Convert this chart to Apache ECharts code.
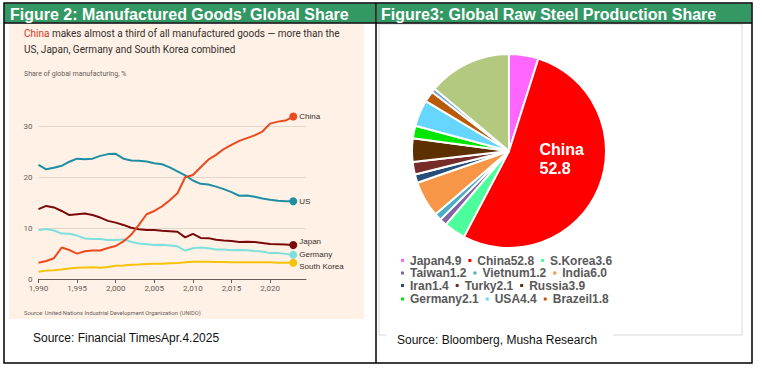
<!DOCTYPE html>
<html><head><meta charset="utf-8">
<script src="https://cdn.jsdelivr.net/npm/echarts@6/dist/echarts.min.js"></script>
<style>html,body{margin:0;padding:0;background:#fff}#c{width:762px;height:369px}</style>
</head><body><div id="c"></div>
<script>
const years = [1990,1991,1992,1993,1994,1995,1996,1997,1998,1999,2000,2001,2002,2003,2004,2005,2006,2007,2008,2009,2010,2011,2012,2013,2014,2015,2016,2017,2018,2019,2020,2021,2022,2023];
const china = [3.2,3.55,4.1,6.2,5.7,5.0,5.45,5.6,5.6,6.1,6.5,7.4,8.7,10.65,12.75,13.4,14.3,15.5,16.9,20.05,20.5,22.0,23.5,24.45,25.6,26.4,27.2,27.75,28.3,29.05,30.6,31.0,31.2,32.0];
const us = [22.5,21.6,21.9,22.3,23.1,23.7,23.6,23.7,24.25,24.6,24.65,23.7,23.35,23.3,23.15,22.8,22.6,22.0,21.2,20.4,19.4,18.75,18.6,18.2,17.7,17.1,16.4,16.45,16.2,15.85,15.6,15.4,15.3,15.3];
const japan = [13.75,14.4,14.1,13.4,12.6,12.75,12.9,12.6,12.1,11.45,11.1,10.65,10.1,9.8,9.65,9.65,9.5,9.4,9.3,8.2,8.9,8.1,8.05,7.75,7.6,7.5,7.3,7.35,7.3,7.1,6.9,6.85,6.8,6.7];
const germany = [9.6,9.85,9.55,8.95,8.9,8.55,8.0,7.9,7.9,7.7,7.7,7.8,7.35,7.0,6.85,6.7,6.75,6.6,6.45,5.6,6.05,6.2,6.05,5.8,5.8,5.65,5.7,5.65,5.5,5.4,5.1,5.1,4.95,4.75];
const korea = [1.45,1.65,1.7,1.85,2.05,2.2,2.25,2.3,2.2,2.35,2.6,2.65,2.8,2.85,2.95,3.0,3.0,3.1,3.15,3.3,3.4,3.4,3.4,3.35,3.35,3.3,3.3,3.3,3.3,3.3,3.3,3.2,3.2,3.2];
const xTicks = [1990,1995,2000,2005,2010,2015,2020];
const yTicks = [0,10,20,30];

const steelNames = ['Japan','China','S.Korea','Taiwan','Vietnum','India','Iran','Turky','Russia','Germany','USA','Brazeil','Other small','Others'];
const steelValues = [4.9,52.8,3.6,1.2,1.2,6.0,1.4,2.1,3.9,2.1,4.4,1.8,0.7,13.9];
const steelColors = ['#FF66FF','#FF0000','#4DFF9C','#8064A2','#4BACC6','#F79646','#254E7A','#772C2A','#5C3000','#00E600','#66D6FF','#B85A0A','#7BA0D0','#B3C980'];
const legendRows = [['Japan','China','S.Korea'],['Taiwan','Vietnum','India'],['Iran','Turky','Russia'],['Germany','USA','Brazeil']];

const FONT = 'Liberation Sans, Arial, sans-serif';
const chart = echarts.init(document.getElementById('c'), null, {renderer:'svg'});

function lineSeries(label, vals, color, offY) {
  const last = vals.length - 1;
  return {
    type:'line', name:'ft-' + label, silent:true, animation:false, symbol:'none', clip:false,
    lineStyle:{width:2, color}, itemStyle:{color},
    data: vals.map((v,i) => i === last ? {value:[years[i], v], symbol:'circle', symbolSize:8} : [years[i], v]),
    endLabel:{show:true, formatter:label, color:'#33302E', fontSize:8, fontFamily:FONT, distance:6, offset:[0, offY]}
  };
}

const valueOf = {};
steelNames.forEach((n,i) => valueOf[n] = steelValues[i]);

const pieData = steelNames.map((n,i) => {
  const d = {name:n, value:steelValues[i], itemStyle:{color:steelColors[i]}};
  if (n === 'China') {
    d.label = {show:true, position:'inside', formatter:'{t|{b}}\n{t|{c}}', padding:[0,0,24,12],
      rich:{t:{width:46, align:'left', color:'#fff', fontSize:16, fontWeight:'bold', lineHeight:19, fontFamily:FONT}}};
  }
  return d;
});

const legendTops = [254.5, 267, 279.5, 293];
const legends = legendRows.map((row, i) => ({
  data: row, left:399, top:legendTops[i], orient:'horizontal', padding:0,
  itemWidth:5, itemHeight:5, icon:'rect', itemGap:5, selectedMode:false,
  formatter: n => n + valueOf[n].toFixed(1),
  textStyle:{width:74, color:'#595959', fontWeight:'bold', fontSize:12, fontFamily:FONT}
}));

const graphics = [
  {type:'rect', shape:{x:0,y:0,width:762,height:369}, style:{fill:'#fff'}, z:-10},
  {type:'rect', shape:{x:9,y:24,width:355,height:295}, style:{fill:'#FFF1E5'}, z:-9},
  {type:'rect', shape:{x:379,y:24,width:363,height:311}, style:{fill:'#fff', stroke:'#D9D9D9', lineWidth:1}, z:-9},
  {type:'rect', shape:{x:386,y:330,width:227,height:12}, style:{fill:'#fff'}, z:-8},
  {type:'rect', shape:{x:4.5,y:3.5,width:371,height:19}, style:{fill:'#349864'}, z:-7},
  {type:'rect', shape:{x:377,y:3.5,width:374.5,height:19}, style:{fill:'#349864'}, z:-7},
  {type:'rect', shape:{x:4,y:3,width:748,height:360}, style:{fill:null, stroke:'#000', lineWidth:1.5}, z:-6},
  {type:'line', shape:{x1:4,y1:23,x2:752,y2:23}, style:{stroke:'#000', lineWidth:1.5}, z:-6},
  {type:'line', shape:{x1:376,y1:3,x2:376,y2:363}, style:{stroke:'#000', lineWidth:1.5}, z:-6},
  {type:'text', x:10, y:14, style:{text:'Figure 2: Manufactured Goods\u2019 Global Share', fill:'#fff', fontSize:16, fontWeight:'bold', fontFamily:FONT, verticalAlign:'middle'}},
  {type:'text', x:381, y:14, style:{text:'Figure3: Global Raw Steel Production Share', fill:'#fff', fontSize:16, fontWeight:'bold', fontFamily:FONT, verticalAlign:'middle'}},
  {type:'text', x:24, y:26, style:{
    text:'{r|China}{g| makes almost a third of all manufactured goods \u2014 more than the}\n{g|US, Japan, Germany and South Korea combined}',
    rich:{r:{fill:'#D9331E', fontSize:10, fontFamily:'Roboto, sans-serif', lineHeight:15.5}, g:{fill:'#33302E', fontSize:10, fontFamily:'Roboto, sans-serif', lineHeight:15.5}}}},
  {type:'text', x:24, y:73.5, style:{text:'Share of global manufacturing, %', fill:'#66605C', fontSize:7, fontFamily:'Roboto, sans-serif', verticalAlign:'middle'}},
  {type:'text', x:24, y:313, style:{text:'Source: United Nations Industrial Development Organization (UNIDO)', fill:'#66605C', fontSize:5.8, fontFamily:'Roboto, sans-serif', verticalAlign:'middle'}},
  {type:'text', x:33, y:338, style:{text:'Source: Financial TimesApr.4.2025', fill:'#111', fontSize:12, fontFamily:FONT, verticalAlign:'middle'}},
  {type:'text', x:397, y:340, style:{text:'Source: Bloomberg, Musha Research', fill:'#111', fontSize:12, fontFamily:FONT, verticalAlign:'middle'}}
];

chart.setOption({
  animation:false,
  graphic: graphics,
  legend: legends,
  grid:{left:38.5, top:126.7, width:267.5, height:152.3},
  xAxis:{type:'value', min:1990, max:2024.65,
    axisLine:{lineStyle:{color:'#66605C', width:1}},
    axisTick:{show:true, length:4, customValues:xTicks, lineStyle:{color:'#66605C'}},
    axisLabel:{customValues:xTicks, fontSize:8, color:'#66605C', margin:5, fontFamily:'Roboto, sans-serif'},
    splitLine:{show:false}},
  yAxis:{type:'value', min:0, max:30, interval:10,
    axisLine:{show:false}, axisTick:{show:false},
    axisLabel:{customValues:yTicks, fontSize:8, color:'#66605C', margin:6, fontFamily:'Roboto, sans-serif'},
    splitLine:{lineStyle:{color:'#E3D6CB', width:1}}},
  series:[
    lineSeries('South Korea', korea, '#F7C20A', 4),
    lineSeries('Germany', germany, '#7DE0DB', 0),
    lineSeries('Japan', japan, '#7A0A0A', -3),
    lineSeries('US', us, '#1D8EA3', 0),
    lineSeries('China', china, '#EB4A1E', 0),
    {type:'pie', name:'steel', center:[509,151], radius:97, startAngle:90, clockwise:true, silent:true,
      label:{show:false}, labelLine:{show:false},
      itemStyle:{borderColor:'#fff', borderWidth:2},
      data: pieData}
  ]
});
</script></body></html>
